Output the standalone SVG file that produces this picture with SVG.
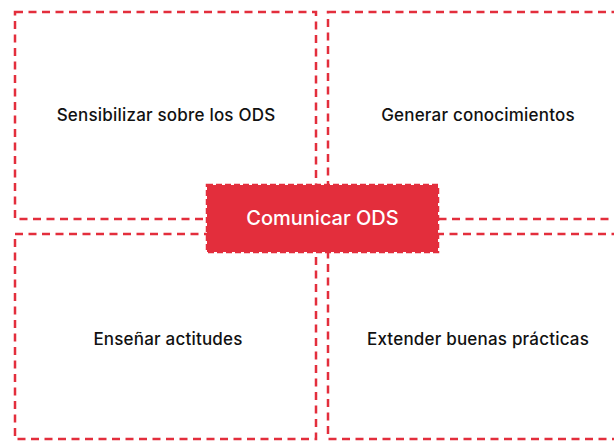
<svg xmlns="http://www.w3.org/2000/svg" width="614" height="441" viewBox="0 0 614 441">
<style>
.q{fill:none;stroke:#E32E3C;stroke-width:2.5;stroke-dasharray:8 5.5}
.t{font-family:Inter,"Liberation Sans",sans-serif;font-size:17px;font-weight:500;letter-spacing:0.2px;fill:#111;text-anchor:middle;dominant-baseline:central}
.c{fill:#E32E3C;stroke:#E32E3C;stroke-width:2.5;stroke-dasharray:6 3}
.ct{font-family:Inter,"Liberation Sans",sans-serif;font-size:20px;font-weight:500;fill:#fff;text-anchor:middle;dominant-baseline:central}
</style>
<rect width="614" height="441" fill="#fff"/>
<g id="n1"><rect class="q" x="15" y="12" width="301" height="207"/><text class="t" x="166" y="115">Sensibilizar sobre los ODS</text></g>
<g id="n2"><rect class="q" x="328" y="12" width="300" height="207"/><text class="t" x="478" y="115">Generar conocimientos</text></g>
<g id="n3"><rect class="q" x="15" y="234" width="301" height="205"/><text class="t" x="168" y="339">Enseñar actitudes</text></g>
<g id="n4"><rect class="q" x="328" y="234" width="300" height="205"/><text class="t" x="478" y="339">Extender buenas prácticas</text></g>
<g id="center"><rect class="c" x="207" y="185" width="231" height="67"/><text class="ct" x="322.5" y="218">Comunicar ODS</text></g>
<g id="connectors"></g>
</svg>
